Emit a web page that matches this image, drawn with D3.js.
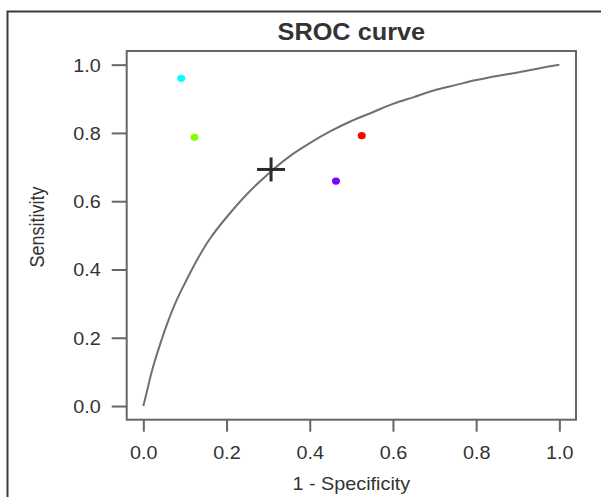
<!DOCTYPE html>
<html>
<head>
<meta charset="utf-8">
<script src="https://cdn.jsdelivr.net/npm/d3@7"></script>
<style>
html,body{margin:0;padding:0;background:#fff;}
svg{display:block;}
text{font-family:"Liberation Sans",Arial,Helvetica,sans-serif;fill:#333;}
</style>
</head>
<body>
<svg id="chart" width="601" height="497"></svg>
<script>
// SROC curve: 1 - specificity vs sensitivity
const curveFpr  = [0, 0.01, 0.02, 0.04, 0.06, 0.08, 0.10, 0.13, 0.16, 0.20, 0.25, 0.30, 0.35, 0.40, 0.45, 0.50, 0.55, 0.60, 0.65, 0.70, 0.75, 0.80, 0.85, 0.90, 0.95, 1.00];
const curveSens = [0, 0.05, 0.10, 0.18, 0.25, 0.31, 0.36, 0.43, 0.49, 0.553, 0.622, 0.68, 0.73, 0.77, 0.805, 0.835, 0.86, 0.885, 0.905, 0.925, 0.94, 0.955, 0.967, 0.977, 0.989, 1.00];
// individual studies
const studyFpr   = [0.525, 0.123, 0.091, 0.463];
const studySens  = [0.792, 0.787, 0.960, 0.659];
const studyColor = ["#FF0000", "#80FF00", "#00FFFF", "#8000FF"];
// summary point
const summaryPoint = [0.307, 0.693];
const tickValues = [0, 0.2, 0.4, 0.6, 0.8, 1.0];
const tickLabels = ["0.0", "0.2", "0.4", "0.6", "0.8", "1.0"];

const svg = d3.select("#chart");
const SX = 1.1; // horizontal stretch of the reference text

// outer frame (only left and top edges visible)
svg.append("rect").attr("x", 7.5).attr("y", 11.5).attr("width", 620).attr("height", 520)
  .attr("fill", "none").attr("stroke", "#3a3a3a").attr("stroke-width", 2);

const x = d3.scaleLinear().domain([-0.04, 1.04]).range([126.7, 576]);
const y = d3.scaleLinear().domain([-0.04, 1.04]).range([419.7, 51]);

// plot box
svg.append("rect").attr("x", x(-0.04)).attr("y", y(1.04))
  .attr("width", x(1.04) - x(-0.04)).attr("height", y(-0.04) - y(1.04))
  .attr("fill", "none").attr("stroke", "#666").attr("stroke-width", 2);

// axes
const xAxis = d3.axisBottom(x).tickValues(tickValues).tickSize(12).tickPadding(0).tickFormat((d, i) => tickLabels[i]);
const yAxis = d3.axisLeft(y).tickValues(tickValues).tickSize(15).tickPadding(0).tickFormat((d, i) => tickLabels[i]);

const gx = svg.append("g").attr("transform", `translate(0,${y(-0.04)})`).call(xAxis);
const gy = svg.append("g").attr("transform", `translate(${x(-0.04)},0)`).call(yAxis);
[gx, gy].forEach(g => {
  g.select(".domain").remove();
  g.selectAll(".tick line").attr("stroke", "#666").attr("stroke-width", 2);
  g.selectAll(".tick text").attr("font-size", 18).attr("fill", "#333");
});
gx.selectAll(".tick text").attr("y", null).attr("dy", null)
  .attr("transform", `translate(0,39) scale(${SX},1)`);
gy.selectAll(".tick text").attr("x", null).attr("dy", null)
  .attr("transform", `translate(-26,6.5) scale(${SX},1)`);

// curve
const line = d3.line().x(d => x(d[0])).y(d => y(d[1])).curve(d3.curveCatmullRom);
svg.append("path").datum(curveFpr.map((f, i) => [f, curveSens[i]]))
  .attr("d", line).attr("fill", "none").attr("stroke", "#707070").attr("stroke-width", 2);

// study points
svg.selectAll("ellipse.study").data(studyFpr).join("ellipse").attr("class", "study")
  .attr("cx", (d) => x(d)).attr("cy", (d, i) => y(studySens[i]))
  .attr("rx", 4).attr("ry", 3.6).attr("fill", (d, i) => studyColor[i]);

// summary cross
const cx = x(summaryPoint[0]), cy = y(summaryPoint[1]);
svg.append("line").attr("x1", cx - 14).attr("x2", cx + 14).attr("y1", cy).attr("y2", cy)
  .attr("stroke", "#2a2a2a").attr("stroke-width", 3);
svg.append("line").attr("x1", cx).attr("x2", cx).attr("y1", cy - 12).attr("y2", cy + 12)
  .attr("stroke", "#2a2a2a").attr("stroke-width", 3);

// title
svg.append("text").attr("transform", `translate(${(x(-0.04) + x(1.04)) / 2},40) scale(${SX},1)`)
  .attr("text-anchor", "middle").attr("font-size", 23).attr("font-weight", "bold")
  .attr("fill", "#111").text("SROC curve");

// axis titles
svg.append("text").attr("transform", `translate(${(x(-0.04) + x(1.04)) / 2},490) scale(${SX},1)`)
  .attr("text-anchor", "middle").attr("font-size", 18).text("1 - Specificity");
svg.append("text").attr("transform", `translate(44,227) scale(${SX},1) rotate(-90)`)
  .attr("text-anchor", "middle").attr("font-size", 18).text("Sensitivity");
</script>
</body>
</html>
